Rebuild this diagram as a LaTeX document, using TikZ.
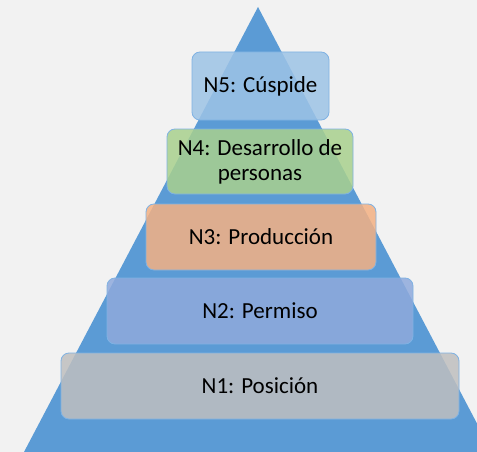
\documentclass[tikz,border=0pt]{standalone}
\usepackage{fontspec}
\setmainfont{Carlito}
\definecolor{fondo}{HTML}{F2F2F2}
\definecolor{piramide}{HTML}{5B9BD5}
\definecolor{borde}{HTML}{7FB2E3}
\definecolor{cuspide}{HTML}{9DC3E6}
\definecolor{desarrollo}{HTML}{A9D18E}
\definecolor{produccion}{HTML}{F4B183}
\definecolor{permiso}{HTML}{8FAADC}
\definecolor{posicion}{HTML}{BFBFBF}
\tikzset{
  nivel/.style={draw=borde, line width=0.8pt, rounded corners=8pt,
    fill opacity=0.85, text opacity=1, align=center, inner sep=0pt,
    font=\fontsize{23}{25}\selectfont, text=black}
}
\begin{document}
\begin{tikzpicture}[x=1pt, y=-1pt]
        \fill [ fondo ] (0, 0) rectangle (477, 452);
        \useasboundingbox (0, 0) rectangle (477, 452);
        \clip (0, 0) rectangle (477, 452);

        \coordinate (apex) at (258, 7);
        \coordinate (izq) at (24, 452);
        \coordinate (der) at (492, 452);
        \fill [ piramide ] (apex) -- (izq) -- (der) -- cycle;

        \node (n1) [ nivel, fill=posicion, minimum width=398pt, minimum height=66pt ] at (260, 386) {N1: Posición};
        \node (n2) [ nivel, fill=permiso, minimum width=306pt, minimum height=66pt ] at (260, 311) {N2: Permiso};
        \node (n3) [ nivel, fill=produccion, minimum width=230pt, minimum height=66pt ] at (261, 237) {N3: Producción};
        \node (n4) [ nivel, fill=desarrollo, minimum width=186pt, minimum height=65pt ] at (260, 161.5) {N4: Desarrollo de\\personas};
        \node (n5) [ nivel, fill=cuspide, minimum width=137pt, minimum height=68pt ] at (260.5, 86) {N5: Cúspide};
      \end{tikzpicture}
\end{document}
